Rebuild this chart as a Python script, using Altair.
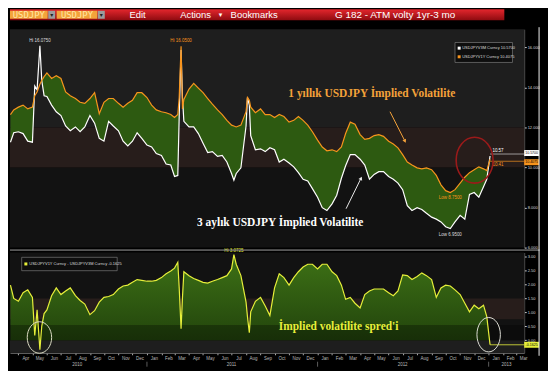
import altair as alt
import pandas as pd

# ---------------- data ----------------
dates = [
    "2010-03-15", "2010-03-22",
    "2010-04-01", "2010-04-11", "2010-04-21",
    "2010-05-01", "2010-05-06", "2010-05-11", "2010-05-17", "2010-05-21", "2010-05-26",
    "2010-06-01", "2010-06-11", "2010-06-21",
    "2010-07-01", "2010-07-11", "2010-07-21",
    "2010-08-01", "2010-08-11", "2010-08-21",
    "2010-09-01", "2010-09-11", "2010-09-21",
    "2010-10-01", "2010-10-11", "2010-10-21",
    "2010-11-01", "2010-11-11", "2010-11-21",
    "2010-12-01", "2010-12-11", "2010-12-21",
    "2011-01-01", "2011-01-11", "2011-01-21",
    "2011-02-01", "2011-02-11", "2011-02-21",
    "2011-03-01", "2011-03-08", "2011-03-11", "2011-03-15", "2011-03-18", "2011-03-21",
    "2011-04-01", "2011-04-11", "2011-04-21",
    "2011-05-01", "2011-05-11", "2011-05-21",
    "2011-06-01", "2011-06-11", "2011-06-21",
    "2011-07-01", "2011-07-06", "2011-07-11", "2011-07-21",
    "2011-08-01", "2011-08-04", "2011-08-08", "2011-08-11", "2011-08-21",
    "2011-09-01", "2011-09-11", "2011-09-21",
    "2011-10-01", "2011-10-11", "2011-10-21",
    "2011-11-01", "2011-11-11", "2011-11-21",
    "2011-12-01", "2011-12-11", "2011-12-21",
    "2012-01-01", "2012-01-11", "2012-01-21",
    "2012-02-01", "2012-02-11", "2012-02-21",
    "2012-03-01", "2012-03-11", "2012-03-21",
    "2012-04-01", "2012-04-11", "2012-04-21",
    "2012-05-01", "2012-05-11", "2012-05-21",
    "2012-06-01", "2012-06-11", "2012-06-21",
    "2012-07-01", "2012-07-11", "2012-07-21",
    "2012-08-01", "2012-08-11", "2012-08-21",
    "2012-09-01", "2012-09-11", "2012-09-21",
    "2012-10-01", "2012-10-11", "2012-10-21",
    "2012-11-01", "2012-11-11", "2012-11-21",
    "2012-12-01", "2012-12-11", "2012-12-21", "2012-12-28",
    "2013-01-04",
]

vol_1y = [  # USDJPYV1Y Curncy (orange)
    12.64, 12.87,
    13.01, 13.11, 12.92,
    13.01, 13.58, 13.77, 14.15, 14.34, 14.53,
    14.72, 14.44, 14.58,
    14.44, 13.77, 13.58,
    13.44, 13.25, 13.20,
    13.44, 13.73, 12.68,
    13.25, 13.44, 13.44,
    13.20, 13.01, 13.20,
    13.35, 13.73, 13.73,
    13.49, 13.11, 12.87,
    12.78, 12.73, 12.64,
    12.49, 12.64, 13.49, 16.05, 12.92, 13.39,
    13.91, 14.20, 13.96,
    13.73, 13.44, 13.16,
    12.87, 12.64, 12.35,
    12.11, 12.07, 12.02, 12.11,
    12.78, 13.49, 13.35, 13.01, 12.73,
    12.92, 12.64, 12.64,
    12.49, 12.64, 12.54,
    12.26, 12.35, 12.54,
    12.35, 12.11, 11.78,
    11.36, 11.02, 10.83,
    10.88, 10.79, 11.02,
    11.69, 12.26, 12.16,
    11.64, 11.40, 11.45,
    11.59, 11.64, 11.55,
    11.31, 11.17, 10.98,
    10.64, 10.27, 10.12,
    9.98, 9.93, 9.98,
    9.89, 9.60, 9.13,
    8.84, 8.75, 8.89,
    9.22, 9.51, 9.74,
    9.89, 10.03, 9.93, 9.84,
    10.4075,
]

vol_3m = [  # USDJPYV3M Curncy (white)
    11.26, 11.73,
    11.78, 11.69, 11.31,
    11.26, 14.06, 13.87, 16.075, 14.34, 13.58,
    13.54, 13.11, 12.78,
    12.59, 12.07, 11.83,
    12.02, 11.78, 12.02,
    12.59, 12.21, 11.45,
    11.31, 12.30, 12.07,
    11.83, 11.31, 11.07,
    11.31, 11.73, 11.45,
    11.12, 11.02, 10.69,
    10.60, 10.17, 10.12,
    9.55, 9.60, 12.54, 15.86, 13.49, 12.30,
    12.02, 12.02, 11.69,
    11.21, 10.74, 10.79,
    10.55, 10.60, 10.27,
    9.70, 9.36, 9.70, 9.98,
    12.07, 13.49, 13.11, 11.59, 10.88,
    10.93, 10.79, 10.98,
    10.88, 10.27, 10.41,
    10.22, 10.03, 9.74,
    9.41, 9.32, 8.94,
    8.51, 7.99, 7.85,
    8.18, 8.61, 9.46,
    10.08, 10.64, 10.64,
    10.41, 10.12, 9.41,
    9.65, 9.79, 9.79,
    9.55, 9.41, 9.22,
    8.89, 8.09, 7.85,
    7.99, 7.90, 7.71,
    7.52, 7.42, 7.28,
    7.04, 6.95, 7.28,
    7.61, 7.42, 8.65,
    8.75, 8.51, 9.03, 9.41,
    10.57,
]

spread = [  # 1Y - 3M (yellow)
    1.98, 1.50,
    1.40, 1.71, 1.81,
    1.54, 0.17, 1.09, -0.34, 0.51, 0.96,
    1.09, 1.60, 1.88,
    1.64, 1.77, 1.88,
    1.60, 1.43, 1.30,
    0.92, 1.06, 1.37,
    1.54, 1.57, 1.64,
    1.84, 1.95, 1.98,
    2.08, 2.18, 2.15,
    2.12, 2.12, 2.15,
    2.25, 2.39, 2.49,
    2.59, 2.80, 1.88, 0.41, 1.54, 2.46,
    2.32, 2.22, 2.15,
    2.08, 2.05, 2.12,
    2.18, 2.25, 2.32,
    2.56, 3.0725, 2.73, 2.32,
    1.37, 0.85, 0.27, 1.02, 1.40,
    1.54, 1.23, 0.89,
    1.88, 2.39, 2.25,
    1.98, 2.25, 2.46,
    2.63, 2.73, 2.73,
    2.56, 2.73, 2.73,
    2.46, 2.32, 1.98,
    1.47, 1.54, 1.33,
    1.16, 1.64, 1.77,
    1.84, 1.84, 1.84,
    1.71, 1.60, 1.77,
    2.35, 2.32, 2.18,
    2.29, 2.42, 2.32,
    2.18, 1.54, 1.88,
    1.98, 1.95, 1.81,
    1.64, 1.33, 1.02,
    1.26, 1.13, 1.26, 0.85,
    -0.1625,
]

n = len(dates)
if not (len(vol_1y) == n and len(vol_3m) == n and len(spread) == n):
    raise ValueError(f"length mismatch {n} {len(vol_1y)} {len(vol_3m)} {len(spread)}")

top_ticks = [6, 8, 10, 12, 14, 16]
spread_ticks = [0.0, 0.5, 1.0, 1.5, 2.0, 2.5, 3.0]
year_labels = ["2010", "2011", "2012", "2013"]
year_dates = ["2010-08-05", "2011-07-01", "2012-07-01", "2013-02-08"]
year_breaks = ["2011-01-01", "2012-01-01", "2013-01-01"]
series_names = ["USDJPYV3M Curncy", "USDJPYV1Y Curncy"]
spread_name = "USDJPYV1Y Curncy - USDJPYV3M Curncy"
note_1y = "1 yıllık USDJPY İmplied Volatilite"
note_3m = "3 aylık USDJPY İmplied Volatilite"
note_spread = "İmplied volatilite spred'i"

# annotation anchors (date, value)
note_1y_at = ("2012-04-26", 13.68)
note_3m_at = ("2011-10-13", 7.23)
note_spread_at = ("2012-02-15", 0.48)
arrow_1y = (["2012-06-04", "2012-07-06"], [12.78, 11.31])
arrow_3m = (["2012-03-02", "2012-04-03"], [7.94, 9.46])
ring_top = ("2012-12-02", 10.36)
ring_left = ("2010-05-16", 0.10)
ring_right = ("2013-01-01", 0.20)

# ---------------- styling ----------------
W, H1, H2 = 518, 220, 101
ORANGE, WHITE, YELLOW = "#f7941d", "#ffffff", "#e6ef3a"
GREEN = "#2d5a11"
SERIF = "Liberation Serif"
SANS = "Liberation Sans"

df = pd.DataFrame({"date": dates, "v1y": vol_1y, "v3m": vol_3m, "spread": spread})
one = alt.Data(values=[{"k": 0}])

x_scale = alt.Scale(domain=[alt.DateTime(year=2010, month=3, date=14),
                            alt.DateTime(year=2013, month=3, date=18)])
xT = alt.X("date:T", scale=x_scale, axis=None, title=None)

y_scale_top = alt.Scale(domain=[6.0, 16.9], nice=False, zero=False)
y_axis_top = alt.Axis(orient="right", values=top_ticks, format=".3f", labelFontSize=4,
                      labelColor="#d8d8d8", tickColor="#e0e0e0", tickSize=2, labelPadding=1,
                      domainColor="#555555", grid=False, title=None)
y_scale_bot = alt.Scale(domain=[-0.45, 3.15], nice=False, zero=False)
y_axis_bot = alt.Axis(orient="right", values=spread_ticks, format=".2f", labelFontSize=4,
                      labelColor="#d8d8d8", tickColor="#e0e0e0", tickSize=2, labelPadding=1,
                      domainColor="#555555", grid=False, title=None)
x_axis_bot = alt.Axis(format="%b", tickCount={"interval": "month", "step": 1}, labelFontSize=4.5,
                      labelColor="#bbbbbb", tickColor="#aaaaaa", tickSize=2, labelPadding=1,
                      labelOffset=7, labelFlush=False, labelOverlap=False, domainColor="#777777",
                      grid=False, title=None)
xB = alt.X("date:T", scale=x_scale, axis=x_axis_bot, title=None)


def yT(field):
    return alt.Y(field, scale=y_scale_top, axis=y_axis_top, title=None)


def yB(field):
    return alt.Y(field, scale=y_scale_bot, axis=y_axis_bot, title=None)


def px_rect(x, x2, y, y2, **kw):
    return alt.Chart(one).mark_rect(**kw).encode(
        x=alt.value(x), x2=alt.value(x2), y=alt.value(y), y2=alt.value(y2))


def px_text(x, y, text, **kw):
    return alt.Chart(one).mark_text(text=text, **kw).encode(x=alt.value(x), y=alt.value(y))


def ellipse_path(r):
    k = 0.5523
    return (f"M -1 0 C -1 {-k*r:.3f} {-k:.4f} {-r:.3f} 0 {-r:.3f} "
            f"C {k:.4f} {-r:.3f} 1 {-k*r:.3f} 1 0 "
            f"C 1 {k*r:.3f} {k:.4f} {r:.3f} 0 {r:.3f} "
            f"C {-k:.4f} {r:.3f} -1 {k*r:.3f} -1 0 Z")


BOX = "M -1 -0.4 L 1 -0.4 L 1 0.4 L -1 0.4 Z"


def point_df(d, v, t=""):
    return pd.DataFrame({"date": [d], "v": [v], "t": [t]})


# ---------------- header ----------------
red_grad = alt.LinearGradient(gradient="linear", x1=0, x2=0, y1=0, y2=1,
                              stops=[alt.GradientStop(color="#e3262d", offset=0),
                                     alt.GradientStop(color="#8e0b10", offset=1)])
header = alt.layer(
    px_rect(0, 498, 0, 11, color=red_grad),
    px_rect(0, 38, 1.5, 9.5, color="#f3a33b"),
    px_rect(38.5, 45.5, 1.5, 9.5, color="#9c9c9c"),
    px_rect(47, 88, 1.5, 9.5, color="#f3a33b"),
    px_rect(88.5, 95.5, 1.5, 9.5, color="#9c9c9c"),
    px_text(19, 5.8, "USDJPY", font="DejaVu Sans Mono", fontSize=9, color="#ffe6a6", baseline="middle"),
    px_text(67.5, 5.8, "USDJPY", font="DejaVu Sans Mono", fontSize=9, color="#ffe6a6", baseline="middle"),
    px_text(42, 5.8, "▾", font="DejaVu Sans", fontSize=6, color="#222222", baseline="middle"),
    px_text(92, 5.8, "▾", font="DejaVu Sans", fontSize=6, color="#222222", baseline="middle"),
    px_text(128.5, 6, "Edit", font=SANS, fontSize=9.5, color="#ffffff", baseline="middle"),
    px_text(187, 6, "Actions", font=SANS, fontSize=9.5, color="#ffffff", baseline="middle"),
    px_text(212, 6, "▾", font="DejaVu Sans", fontSize=7, color="#ffffff", baseline="middle"),
    px_text(246, 6, "Bookmarks", font=SANS, fontSize=9.5, color="#ffffff", baseline="middle"),
    px_text(388, 6, "G 182 - ATM volty 1yr-3 mo", font=SANS, fontSize=10, color="#ffffff", baseline="middle"),
).properties(width=540, height=15)

# ---------------- top panel ----------------
band_lo = [6.0, 10.0, 12.0]
band_hi = [10.0, 12.0, 16.9]
band_tone = ["low", "mid", "high"]
bands_top = alt.Chart(pd.DataFrame({"lo": band_lo, "hi": band_hi, "tone": band_tone})).mark_rect().encode(
    x=alt.value(0), x2=alt.value(W), y=yT("lo:Q"), y2="hi:Q",
    color=alt.Color("tone:N", scale=alt.Scale(domain=band_tone, range=["#121212", "#271d1b", "#1e1e1e"]),
                    legend=None))

base = alt.Chart(df)
green = base.transform_calculate(upper="max(datum.v1y, datum.v3m)").mark_area(
    color=GREEN, interpolate="linear").encode(x=xT, y=yT("v3m:Q"), y2="upper:Q")
line3m = base.mark_line(color=WHITE, strokeWidth=1.2).encode(x=xT, y=yT("v3m:Q"))
line1y = base.mark_line(color=ORANGE, strokeWidth=1.2).encode(x=xT, y=yT("v1y:Q"))

i_hi3 = max(range(n), key=lambda i: vol_3m[i])
i_hi1 = max(range(n), key=lambda i: vol_1y[i])
i_lo3 = min(range(n), key=lambda i: vol_3m[i])
i_lo1 = min(range(n), key=lambda i: vol_1y[i])


def label_top(i, series, prefix, color, dy):
    d = point_df(dates[i], series[i], f"{prefix} {series[i]:.4f}")
    return alt.Chart(d).mark_text(font=SANS, fontSize=4.5, color=color, dy=dy).encode(
        x=xT, y=yT("v:Q"), text="t:N")


hi3 = label_top(i_hi3, vol_3m, "Hi", "#dddddd", -5)
hi1 = label_top(i_hi1, vol_1y, "Hi", ORANGE, -5)
lo3 = label_top(i_lo3, vol_3m, "Low", "#dddddd", 7)
lo1 = label_top(i_lo1, vol_1y, "Low", ORANGE, 6)

last3 = point_df(dates[-1], vol_3m[-1], f"{vol_3m[-1]:.4f}")
last1 = point_df(dates[-1], vol_1y[-1], f"{vol_1y[-1]:.4f}")
end_rules = alt.layer(
    alt.Chart(last3).mark_rule(color="#cfcfcf", strokeWidth=0.7, yOffset=-2).encode(x=xT, x2=alt.value(W), y=yT("v:Q")),
    alt.Chart(last1).mark_rule(color=ORANGE, strokeWidth=0.7, yOffset=2).encode(x=xT, x2=alt.value(W), y=yT("v:Q")),
    alt.Chart(last3).mark_text(font=SANS, fontSize=4.5, color=WHITE, dx=8, dy=-5).encode(
        x=xT, y=yT("v:Q"), text=alt.value(f"{vol_3m[-1]:.2f}")),
    alt.Chart(last1).mark_text(font=SANS, fontSize=4.5, color=ORANGE, dx=8, dy=6).encode(
        x=xT, y=yT("v:Q"), text=alt.value(f"{vol_1y[-1]:.2f}")),
    alt.Chart(last3).mark_point(shape=BOX, filled=True, size=225, color=WHITE, opacity=1, yOffset=-3).encode(
        x=alt.value(W + 7.5), y=yT("v:Q")),
    alt.Chart(last1).mark_point(shape=BOX, filled=True, size=225, color=ORANGE, opacity=1, yOffset=3).encode(
        x=alt.value(W + 7.5), y=yT("v:Q")),
    alt.Chart(last3).mark_text(font=SANS, fontSize=3.6, color="#000000", yOffset=-3, baseline="middle").encode(
        x=alt.value(W + 7.5), y=yT("v:Q"), text="t:N"),
    alt.Chart(last1).mark_text(font=SANS, fontSize=3.6, color="#000000", yOffset=3, baseline="middle").encode(
        x=alt.value(W + 7.5), y=yT("v:Q"), text="t:N"),
)

ring_t = alt.Chart(point_df(*ring_top)).mark_point(
    shape=ellipse_path(1.24), filled=False, size=1384, color="#9b1a1a", strokeWidth=1.6, opacity=1).encode(
    x=xT, y=yT("v:Q"))

notes_top = alt.layer(
    alt.Chart(point_df(note_1y_at[0], note_1y_at[1], note_1y)).mark_text(
        font=SERIF, fontSize=11.5, fontWeight="bold", color="#f4a23a", baseline="middle").encode(
        x=xT, y=yT("v:Q"), text="t:N"),
    alt.Chart(point_df(note_3m_at[0], note_3m_at[1], note_3m)).mark_text(
        font=SERIF, fontSize=11.5, fontWeight="bold", color="#ffffff", baseline="middle").encode(
        x=xT, y=yT("v:Q"), text="t:N"),
    alt.Chart(pd.DataFrame({"date": arrow_1y[0], "v": arrow_1y[1]})).mark_line(
        color="#f4a23a", strokeWidth=1).encode(x=xT, y=yT("v:Q")),
    alt.Chart(point_df(arrow_1y[0][1], arrow_1y[1][1])).mark_point(
        shape="triangle-up", filled=True, size=16, angle=154, color="#f4a23a", opacity=1).encode(x=xT, y=yT("v:Q")),
    alt.Chart(pd.DataFrame({"date": arrow_3m[0], "v": arrow_3m[1]})).mark_line(
        color="#e8e8e8", strokeWidth=1).encode(x=xT, y=yT("v:Q")),
    alt.Chart(point_df(arrow_3m[0][1], arrow_3m[1][1])).mark_point(
        shape="triangle-up", filled=True, size=16, angle=25, color="#e8e8e8", opacity=1).encode(x=xT, y=yT("v:Q")),
)

legend_top = alt.layer(
    px_rect(448.3, 506.2, 13.4, 33.5, fill="#0e0e0e", stroke="#8a8a8a", strokeWidth=0.6),
    px_rect(451, 454, 17.6, 20.6, color=WHITE),
    px_rect(451, 454, 26.3, 29.3, color=ORANGE),
    px_text(455.5, 19.1, f"{series_names[0]}  {vol_3m[-1]:.4f}", font=SANS, fontSize=4,
            color="#dddddd", align="left", baseline="middle"),
    px_text(455.5, 27.8, f"{series_names[1]}  {vol_1y[-1]:.4f}", font=SANS, fontSize=4,
            color="#dddddd", align="left", baseline="middle"),
)

right_line_top = alt.Chart(one).mark_rule(color="#f0f0f0", strokeWidth=1).encode(
    x=alt.value(W + 15), y=alt.value(-2), y2=alt.value(H1 + 3))

top = alt.layer(bands_top, green, line3m, line1y, hi3, hi1, lo3, lo1, end_rules, ring_t,
                notes_top, legend_top, right_line_top).properties(width=W, height=H1)

# ---------------- bottom panel ----------------
bb_lo = [0.0, 0.75, -0.45]
bb_hi = [3.15, 1.5, 0.0]
bb_tone = ["base", "warm", "below"]
bands_bot = alt.Chart(pd.DataFrame({"lo": bb_lo, "hi": bb_hi, "tone": bb_tone})).mark_rect().encode(
    x=alt.value(0), x2=alt.value(W), y=yB("lo:Q"), y2="hi:Q",
    color=alt.Color("tone:N", scale=alt.Scale(domain=bb_tone, range=["#1c1c1c", "#241918", "#0b0b0b"]),
                    legend=None))

green_grad = alt.LinearGradient(gradient="linear", x1=0, x2=0, y1=0, y2=1,
                                stops=[alt.GradientStop(color="#3e7216", offset=0),
                                       alt.GradientStop(color="#22440c", offset=1)])
spread_area = base.transform_calculate(pos="max(datum.spread, 0)").mark_area(
    color=green_grad, interpolate="linear").encode(x=xB, y=yB("pos:Q"), y2=alt.datum(0))

dark_lo = [0.0]
dark_hi = [0.55]
dark_band = alt.Chart(pd.DataFrame({"lo": dark_lo, "hi": dark_hi})).mark_rect(color="#000000", opacity=0.3).encode(
    x=alt.value(0), x2=alt.value(W), y=yB("lo:Q"), y2="hi:Q")

spread_line = base.mark_line(color=YELLOW, strokeWidth=1.2).encode(x=xB, y=yB("spread:Q"))

i_hs = max(range(n), key=lambda i: spread[i])
hi_s = alt.Chart(point_df(dates[i_hs], spread[i_hs], f"Hi {spread[i_hs]:.4f}")).mark_text(
    font=SANS, fontSize=4.5, color=YELLOW, dy=-4).encode(x=xB, y=yB("v:Q"), text="t:N")

last_s = point_df(dates[-1], spread[-1], f"{spread[-1]:.4f}")
end_s = alt.layer(
    alt.Chart(last_s).mark_rule(color=YELLOW, strokeWidth=0.8).encode(x=xB, x2=alt.value(W), y=yB("v:Q")),
    alt.Chart(last_s).mark_point(shape=BOX, filled=True, size=225, color=YELLOW, opacity=1).encode(
        x=alt.value(W + 7.5), y=yB("v:Q")),
    alt.Chart(last_s).mark_text(font=SANS, fontSize=3.6, color="#000000", baseline="middle").encode(
        x=alt.value(W + 7.5), y=yB("v:Q"), text="t:N"),
)

rings_b = alt.layer(
    alt.Chart(point_df(*ring_left)).mark_point(
        shape=ellipse_path(1.29), filled=False, size=605, color="#dcdcc4", strokeWidth=1, opacity=1).encode(
        x=xB, y=yB("v:Q")),
    alt.Chart(point_df(*ring_right)).mark_point(
        shape=ellipse_path(1.47), filled=False, size=557, color="#dcdcd4", strokeWidth=1, opacity=1).encode(
        x=xB, y=yB("v:Q")),
)

note_s = alt.Chart(point_df(note_spread_at[0], note_spread_at[1], note_spread)).mark_text(
    font=SERIF, fontSize=11.5, fontWeight="bold", color=YELLOW, baseline="middle").encode(
    x=xB, y=yB("v:Q"), text="t:N")

legend_bot = alt.layer(
    px_rect(11.8, 108, 4.8, 18.3, fill="#0e0e0e", stroke="#8a8a8a", strokeWidth=0.6),
    px_rect(14.5, 17.5, 10, 13, color=YELLOW),
    px_text(19.5, 11.5, f"{spread_name}  {spread[-1]:.4f}", font=SANS, fontSize=4,
            color="#dddddd", align="left", baseline="middle"),
)

years = alt.Chart(pd.DataFrame({"date": year_dates, "t": year_labels})).mark_text(
    font=SANS, fontSize=4.5, color="#bbbbbb", baseline="middle").encode(
    x=xB, y=alt.value(H2 + 12), text="t:N")
year_ticks = alt.Chart(pd.DataFrame({"date": year_breaks})).mark_rule(color="#999999", strokeWidth=0.6).encode(
    x=xB, y=alt.value(H2 + 9), y2=alt.value(H2 + 14))

sep_line = alt.Chart(one).mark_rule(color="#a0a0a0", strokeWidth=1).encode(
    x=alt.value(0), x2=alt.value(W + 15), y=alt.value(-2.5))
right_line_bot = alt.Chart(one).mark_rule(color="#f0f0f0", strokeWidth=1).encode(
    x=alt.value(W + 15), y=alt.value(-3), y2=alt.value(H2 + 3))

bottom = alt.layer(bands_bot, spread_area, dark_band, spread_line, hi_s, end_s, rings_b, note_s,
                   legend_bot, years, year_ticks, sep_line, right_line_bot).properties(width=W, height=H2)

chart = alt.vconcat(header, top, bottom, spacing=5, bounds="flush").configure(
    background="#000000", font=SANS, padding={"left": 0, "top": 0, "right": 2, "bottom": 2}
).configure_view(stroke=None)

chart.save("out.html", embed_options={"renderer": "svg", "actions": False})
